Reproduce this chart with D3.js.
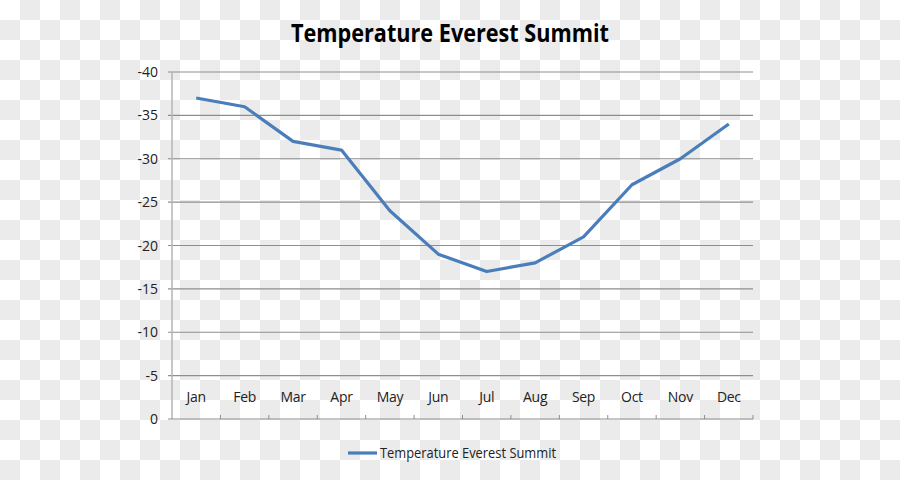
<!DOCTYPE html>
<html><head><meta charset="utf-8">
<script src="https://cdn.jsdelivr.net/npm/d3@7"></script>
<style>body{margin:0;background:#fff}svg{display:block}</style>
</head><body><svg id="c" width="900" height="480"></svg>
<script>
const months = ["Jan","Feb","Mar","Apr","May","Jun","Jul","Aug","Sep","Oct","Nov","Dec"];
const temps = [-37,-36,-32,-31,-24,-19,-17,-18,-21,-27,-30,-34];
const yTicks = [0,-5,-10,-15,-20,-25,-30,-35,-40];
const title = "Temperature Everest Summit";
const seriesName = "Temperature Everest Summit";

(function(){
const svg = d3.select("#c");
const W = 900, H = 480;
// checkerboard background
const defs = svg.append("defs");
const pat = defs.append("pattern").attr("id","chk").attr("width",40).attr("height",40).attr("patternUnits","userSpaceOnUse");
pat.append("rect").attr("width",40).attr("height",40).attr("fill","#ffffff");
pat.append("rect").attr("x",20).attr("y",0).attr("width",20).attr("height",20).attr("fill","#ebebeb");
pat.append("rect").attr("x",0).attr("y",20).attr("width",20).attr("height",20).attr("fill","#ebebeb");
svg.append("rect").attr("width",W).attr("height",H).attr("fill","url(#chk)");

const pLeft = 172, pRight = 753, pTop = 72, pBottom = 419;
const x = d3.scaleBand().domain(months).range([pLeft,pRight]);
const y = d3.scaleLinear().domain([0,-40]).range([pBottom,pTop]);
const font = "'Open Sans','Liberation Sans',sans-serif";

// gridlines
svg.append("g").selectAll("line").data(yTicks.filter(d=>d!==0)).join("line")
  .attr("x1",pLeft-4).attr("x2",pRight).attr("y1",d=>y(d)).attr("y2",d=>y(d))
  .attr("stroke","#8e8e8e").attr("stroke-width",1.2);
// y axis line
svg.append("line").attr("x1",pLeft).attr("x2",pLeft).attr("y1",pTop).attr("y2",pBottom)
  .attr("stroke","#b4b4b4").attr("stroke-width",1.5);
// bottom axis
svg.append("line").attr("x1",pLeft-4).attr("x2",pRight).attr("y1",pBottom).attr("y2",pBottom)
  .attr("stroke","#8e8e8e").attr("stroke-width",1.2);
svg.append("g").selectAll("line").data(months).join("line")
  .attr("x1",d=>x(d)+x.bandwidth()).attr("x2",d=>x(d)+x.bandwidth())
  .attr("y1",pBottom).attr("y2",pBottom-4).attr("stroke","#8e8e8e").attr("stroke-width",1);

// y labels
svg.append("g").selectAll("text").data(yTicks).join("text")
  .attr("x",158).attr("y",d=>y(d)+5).attr("text-anchor","end")
  .attr("font-family",font).attr("font-size",14).attr("fill","#222")
  .text(d=>d);
// x labels
svg.append("g").selectAll("text").data(months).join("text")
  .attr("x",d=>x(d)+x.bandwidth()/2).attr("y",402).attr("text-anchor","middle")
  .attr("font-family",font).attr("font-size",14).attr("fill","#222")
  .attr("letter-spacing",-0.3)
  .text(d=>d);

// line
const line = d3.line().x((d,i)=>x(months[i])+x.bandwidth()/2).y(d=>y(d));
svg.append("path").datum(temps).attr("d",line).attr("fill","none")
  .attr("stroke","#4a7ebb").attr("stroke-width",3.2).attr("stroke-linejoin","round");

// title
svg.append("text").attr("x",450).attr("y",42).attr("text-anchor","middle")
  .attr("font-family",font).attr("font-weight","bold").attr("font-size",25).attr("fill","#000")
  .attr("textLength",318).attr("lengthAdjust","spacingAndGlyphs")
  .text(title);

// legend
svg.append("line").attr("x1",348).attr("x2",377).attr("y1",453).attr("y2",453)
  .attr("stroke","#4a7ebb").attr("stroke-width",3.2);
svg.append("text").attr("x",380).attr("y",458).attr("font-family",font).attr("font-size",14).attr("fill","#222")
  .attr("textLength",176).attr("lengthAdjust","spacingAndGlyphs")
  .text(seriesName);
})();
</script></body></html>
